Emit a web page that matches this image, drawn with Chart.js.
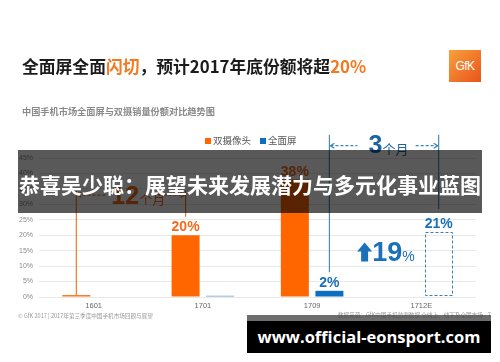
<!DOCTYPE html>
<html lang="zh">
<head>
  <meta charset="UTF-8">
  <title>全面屏与双摄销量份额对比</title>
  <script src="https://cdn.jsdelivr.net/npm/chart.js"></script>
  <style>
    body {
      margin: 0;
      width: 500px;
      height: 362px;
      overflow: hidden;
      background: #fff;
      font-family: 'Noto Sans CJK SC', 'Noto Sans', sans-serif;
    }
    #page { position: relative; width: 500px; height: 362px; }
    #chart { position: absolute; left: 0; top: 0; }
    .abs { position: absolute; white-space: nowrap; }

    #title { left: 22px; top: 55px; font-size: 16.8px; font-weight: 700; color: #1b1b1b; line-height: 22px; }
    #title .hl { color: #f47920; }

    #logo {
      left: 449px; top: 50px; width: 32px; height: 32px;
      background: linear-gradient(135deg, #f9a03a, #e9541c);
      color: #fff; font: 12px 'Liberation Sans', sans-serif;
      text-align: center; line-height: 32px; letter-spacing: -0.5px;
    }

    #subtitle { left: 22px; top: 105px; font-size: 9.2px; font-weight: 700; color: #8a8a8a; line-height: 13px; }

    #legend { left: 205px; top: 133px; font-size: 9.5px; color: #555; line-height: 14px; }
    #legend span.box { display: inline-block; width: 6px; height: 6px; margin-right: 2px; vertical-align: 0px; }
    #legend span.item { margin-right: 9px; }

    #banner {
      left: 18px; top: 150px; width: 464px; height: 63px;
      background: rgba(0, 0, 0, 0.65);
      color: #fff; font-size: 21px; font-weight: 700;
      text-align: center; line-height: 68px;
    }

    .foot { font-size: 5.6px; color: #9a9a9a; line-height: 8px; }
    #footL { left: 18px; top: 312px; }
    #footR { left: 338px; top: 311px; }

    #strip { left: 247px; top: 315px; width: 244px; height: 6px; background: rgba(60, 60, 60, 0.75); }
    #mark {
      left: 247px; top: 321px; width: 244px; height: 32px;
      background: #000; color: #fff;
      font-family: 'Open Sans', sans-serif; font-size: 16.5px; font-weight: 700;
      text-align: center; line-height: 32px;
    }
  </style>
</head>
<body>
<div id="page">
  <canvas id="chart" width="500" height="362"></canvas>

  <div class="abs" id="title">全面屏全面<span class="hl">闪切</span>，预计2017年底份额将超<span class="hl">20%</span></div>
  <div class="abs" id="logo">GfK</div>
  <div class="abs" id="subtitle">中国手机市场全面屏与双摄销量份额对比趋势图</div>
  <div class="abs" id="legend"></div>

  <div class="abs foot" id="footL">© GfK 2017 | 2017年第三季度中国手机市场回顾与展望</div>
  <div class="abs foot" id="footR">数据来源：GfK中国手机监测数据 全线上、线下及全国市场&nbsp;&nbsp;&nbsp;&nbsp;7</div>

  <div class="abs" id="banner">恭喜吴少聪：展望未来发展潜力与多元化事业蓝图</div>
  <div class="abs" id="strip"></div>
  <div class="abs" id="mark">www.official-eonsport.com</div>
</div>

<script>
  // data
  const categories = ['1601', '1701', '1709', '1712E'];
  const seriesNames = ['双摄像头', '全面屏'];
  const dualCamera = [0.6, 20, 38, null];
  const fullScreen = [0, 0.4, 2, 21];
  const dualLabels = [null, '20%', '38%', null];
  const fullLabels = [null, null, '2%', '21%'];
  const yTicks = [0, 5, 10, 15, 20, 25, 30, 35, 40, 45];

  const ORANGE = '#ff6600';
  const BLUE = '#0e6fc1';
  const ORANGE_TXT = '#f26b1d';
  const BLUE_TXT = '#1a70b9';

  // html legend from the series names
  document.getElementById('legend').innerHTML = seriesNames.map((n, i) =>
    `<span class="item"><span class="box" style="background:${i ? BLUE : ORANGE}"></span>${n}</span>`
  ).join('');

  function dashArrow(ctx, x1, x2, y, headAt) {
    ctx.save();
    ctx.setLineDash([3, 2]);
    ctx.beginPath();
    ctx.moveTo(x1, y);
    ctx.lineTo(x2, y);
    ctx.stroke();
    ctx.restore();
    // small open arrow head
    const hx = headAt === 'left' ? x1 : x2;
    const d = headAt === 'left' ? 4 : -4;
    ctx.beginPath();
    ctx.moveTo(hx + d, y - 2.5);
    ctx.lineTo(hx, y);
    ctx.lineTo(hx + d, y + 2.5);
    ctx.stroke();
  }

  const annotations = {
    id: 'annotations',
    afterDatasetsDraw(chart) {
      const { ctx, scales: { x, y } } = chart;
      const orange = chart.getDatasetMeta(0).data;
      const blue = chart.getDatasetMeta(1).data;
      ctx.save();

      // estimate bar drawn as a dashed outline
      const est = blue[3];
      ctx.save();
      ctx.setLineDash([3, 2]);
      ctx.strokeStyle = '#3a7fb8';
      ctx.lineWidth = 1;
      ctx.strokeRect(Math.round(est.x - est.width / 2) + 0.5, Math.round(est.y) + 0.5,
        Math.round(est.width) - 1, Math.round(est.base - est.y) - 1);
      ctx.restore();

      // value labels
      ctx.textAlign = 'center';
      ctx.textBaseline = 'alphabetic';
      ctx.font = 'bold 14px "Liberation Sans", sans-serif';
      dualLabels.forEach((t, i) => {
        if (!t) return;
        ctx.fillStyle = ORANGE_TXT;
        ctx.fillText(t, orange[i].x, orange[i].y - 4);
      });
      fullLabels.forEach((t, i) => {
        if (!t) return;
        ctx.fillStyle = BLUE_TXT;
        ctx.fillText(t, blue[i].x, blue[i].y - 4);
      });

      // 12 months bracket (orange)
      const oa = orange[0].x, ob = orange[1].x, oy = y.getPixelForValue(33);
      ctx.strokeStyle = '#f07a2a';
      ctx.lineWidth = 1.2;
      ctx.beginPath();
      ctx.moveTo(oa, y.getPixelForValue(34.5)); ctx.lineTo(oa, orange[0].y);
      ctx.moveTo(ob, y.getPixelForValue(34.5)); ctx.lineTo(ob, y.getPixelForValue(26));
      ctx.stroke();
      dashArrow(ctx, oa + 1, oa + 31, oy, 'left');
      dashArrow(ctx, ob - 27, ob - 1, oy, 'right');
      ctx.fillStyle = '#f26b1d';
      ctx.textAlign = 'left';
      ctx.font = 'bold 25px "Liberation Sans", sans-serif';
      ctx.fillText('12', oa + 35, oy + 9);
      ctx.font = '13px "Noto Sans CJK SC", sans-serif';
      ctx.fillText('个月', oa + 63, oy + 9);

      // 3 months bracket (blue)
      const ba = blue[2].x, bb = blue[3].x, by = y.getPixelForValue(49);
      ctx.strokeStyle = '#4f8db3';
      ctx.lineWidth = 1.2;
      ctx.beginPath();
      ctx.moveTo(ba, y.getPixelForValue(52.5)); ctx.lineTo(ba, y.getPixelForValue(8));
      ctx.moveTo(bb, y.getPixelForValue(52.5)); ctx.lineTo(bb, y.getPixelForValue(28.5));
      ctx.stroke();
      ctx.strokeStyle = '#3a86bf';
      dashArrow(ctx, ba + 1, ba + 28, by, 'left');
      dashArrow(ctx, bb - 23, bb - 1, by, 'right');
      ctx.fillStyle = '#1d62a6';
      ctx.font = 'bold 25px "Liberation Sans", sans-serif';
      ctx.fillText('3', ba + 39, by + 7);
      ctx.font = '13px "Noto Sans CJK SC", sans-serif';
      ctx.fillText('个月', ba + 53, by + 8);

      // growth call-out
      const gx = x.getPixelForValue(2) + 45, gy = y.getPixelForValue(11.5);
      ctx.fillStyle = BLUE_TXT;
      ctx.beginPath();
      ctx.moveTo(gx, gy - 10);
      ctx.lineTo(gx + 7.5, gy - 19);
      ctx.lineTo(gx + 15, gy - 10);
      ctx.lineTo(gx + 11, gy - 10);
      ctx.lineTo(gx + 11, gy);
      ctx.lineTo(gx + 4, gy);
      ctx.lineTo(gx + 4, gy - 10);
      ctx.closePath();
      ctx.fill();
      ctx.font = 'bold 27px "Liberation Sans", sans-serif';
      ctx.fillText('19', gx + 15, gy);
      ctx.font = '14px "Liberation Sans", sans-serif';
      ctx.fillText('%', gx + 45, gy);

      ctx.restore();
    }
  };

  new Chart(document.getElementById('chart'), {
    type: 'bar',
    data: {
      labels: categories,
      datasets: [
        {
          label: seriesNames[0],
          data: dualCamera,
          backgroundColor: ORANGE,
          categoryPercentage: 0.633,
          barPercentage: 0.81
        },
        {
          label: seriesNames[1],
          data: fullScreen,
          backgroundColor: [BLUE, '#5e9fd0', BLUE, 'rgba(0,0,0,0)'],
          categoryPercentage: 0.633,
          barPercentage: 0.81
        }
      ]
    },
    options: {
      responsive: false,
      animation: false,
      layout: { padding: { left: 0, right: 24, top: 158, bottom: 0 } },
      plugins: {
        legend: { display: false },
        tooltip: { enabled: false }
      },
      scales: {
        x: {
          grid: { display: false, drawTicks: false },
          border: { display: false },
          ticks: { color: '#666', font: { size: 7.5, family: 'Liberation Sans' }, padding: 4 },
          afterFit: s => { s.height = 65; }
        },
        y: {
          min: 0,
          max: 45,
          afterBuildTicks: s => { s.ticks = yTicks.map(v => ({ value: v })); },
          grid: { color: '#e8e8e8', drawTicks: false },
          border: { display: false },
          ticks: {
            color: '#8a8a8a',
            font: { size: 7, family: 'Liberation Sans' },
            padding: 6,
            callback: v => v + '%'
          },
          afterFit: s => { s.width = 39; }
        }
      }
    },
    plugins: [annotations]
  });
</script>
</body>
</html>
